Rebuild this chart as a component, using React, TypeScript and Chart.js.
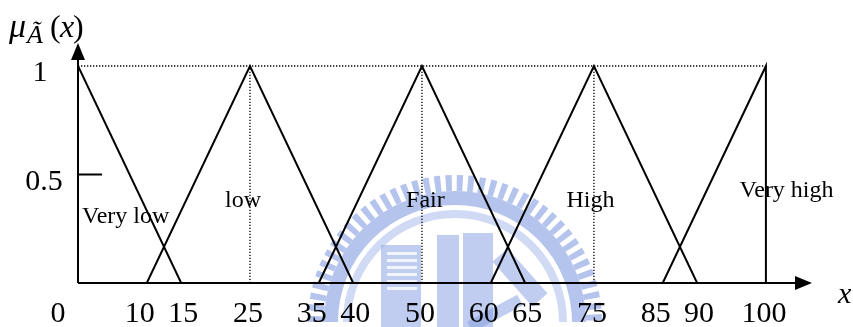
import React, { useEffect, useRef } from 'react';
import { Chart, registerables } from 'chart.js';

Chart.register(...registerables);

// ---- data ----
const xTickValues = [0, 10, 15, 25, 35, 40, 50, 60, 65, 75, 85, 90, 100];
const yTickValues = [0.5, 1];
const setNames = ['Very low', 'low', 'Fair', 'High', 'Very high'];
const veryLowX = [0, 15];
const veryLowY = [1, 0];
const lowX = [10, 25, 40];
const lowY = [0, 1, 0];
const fairX = [35, 50, 65];
const fairY = [0, 1, 0];
const highX = [60, 75, 90];
const highY = [0, 1, 0];
const veryHighX = [85, 100, 100];
const veryHighY = [0, 1, 0];
const peakX = [25, 50, 75];
const topLineX = [0, 100];

const FONT = '"Liberation Serif", "Times New Roman", serif';

const pts = (xs: number[], ys: number[]) => xs.map((x, i) => ({ x, y: ys[i] }));

const solid = (label: string, xs: number[], ys: number[]) => ({
  label,
  data: pts(xs, ys),
  borderColor: '#000',
  borderWidth: 2,
  pointRadius: 0,
  tension: 0,
  fill: false,
});

const dotted = (label: string, data: { x: number; y: number }[]) => ({
  label,
  data,
  borderColor: '#000',
  borderWidth: 1.3,
  borderDash: [1.3, 1.7],
  pointRadius: 0,
  tension: 0,
  fill: false,
});

// faint watermark logo behind the chart
const watermarkPlugin = {
  id: 'watermark',
  beforeDatasetsDraw(chart: any) {
    const { ctx } = chart;
    const cx = 455;
    const cy = 322;
    ctx.save();
    ctx.beginPath();
    ctx.rect(0, 0, 853, 327);
    ctx.clip();
    const blue = 'rgba(120,148,222,0.55)';
    ctx.strokeStyle = blue;
    ctx.lineWidth = 16;
    ctx.setLineDash([6, 5]);
    ctx.beginPath();
    ctx.arc(cx, cy, 139, Math.PI, 2 * Math.PI);
    ctx.stroke();
    ctx.setLineDash([]);
    ctx.lineWidth = 14;
    ctx.beginPath();
    ctx.arc(cx, cy, 124, Math.PI, 2 * Math.PI);
    ctx.stroke();
    ctx.lineWidth = 8;
    ctx.strokeStyle = 'rgba(150,172,230,0.45)';
    ctx.beginPath();
    ctx.arc(cx, cy, 108, Math.PI, 2 * Math.PI);
    ctx.stroke();
    ctx.fillStyle = 'rgba(130,156,225,0.5)';
    ctx.fillRect(381, 245, 40, 82);
    ctx.fillRect(437, 235, 22, 92);
    ctx.fillRect(463, 233, 30, 94);
    ctx.fillStyle = 'rgba(255,255,255,0.8)';
    for (let i = 0; i < 6; i++) ctx.fillRect(387, 252 + i * 7, 30, 3);
    ctx.strokeStyle = 'rgba(130,156,225,0.5)';
    ctx.lineWidth = 20;
    ctx.beginPath();
    ctx.moveTo(500, 255);
    ctx.lineTo(540, 300);
    ctx.stroke();
    ctx.lineWidth = 12;
    ctx.beginPath();
    ctx.moveTo(520, 300);
    ctx.lineTo(470, 327);
    ctx.stroke();
    ctx.restore();
  },
};

const decorPlugin = {
  id: 'decor',
  afterDatasetsDraw(chart: any) {
    const { ctx, chartArea, scales } = chart;
    const xs = scales.x;
    const ys = scales.y;
    const x0 = xs.getPixelForValue(0);
    const y0 = ys.getPixelForValue(0);
    ctx.save();
    ctx.strokeStyle = '#000';
    ctx.fillStyle = '#000';
    ctx.lineWidth = 2;
    ctx.beginPath();
    ctx.moveTo(x0, y0);
    ctx.lineTo(x0, chartArea.top + 14);
    ctx.moveTo(x0, y0);
    ctx.lineTo(chartArea.right - 14, y0);
    ctx.stroke();
    ctx.beginPath();
    ctx.moveTo(x0, chartArea.top);
    ctx.lineTo(x0 - 7, chartArea.top + 17);
    ctx.lineTo(x0 + 7, chartArea.top + 17);
    ctx.closePath();
    ctx.fill();
    ctx.beginPath();
    ctx.moveTo(chartArea.right, y0);
    ctx.lineTo(chartArea.right - 17, y0 - 7);
    ctx.lineTo(chartArea.right - 17, y0 + 7);
    ctx.closePath();
    ctx.fill();
    const yh = ys.getPixelForValue(0.5);
    ctx.beginPath();
    ctx.moveTo(x0, yh);
    ctx.lineTo(x0 + 24, yh);
    ctx.stroke();

    // x tick labels (nudge apart labels that are only 5 apart)
    ctx.font = `30px ${FONT}`;
    ctx.textAlign = 'center';
    ctx.textBaseline = 'alphabetic';
    xTickValues.forEach((v, i) => {
      const px = xs.getPixelForValue(v);
      let dx = -2;
      if (i + 1 < xTickValues.length && xTickValues[i + 1] - v <= 5) dx -= 5;
      if (i > 0 && v - xTickValues[i - 1] <= 5) dx += 4;
      ctx.fillText(String(v), v === 0 ? px - 20 : px + dx, 322);
    });
    yTickValues.forEach((v) => {
      const py = ys.getPixelForValue(v);
      ctx.textAlign = 'center';
      ctx.fillText(String(v), v === 1 ? 40 : 44, py + 15);
    });

    ctx.font = `24px ${FONT}`;
    ctx.textAlign = 'left';
    ctx.fillText(setNames[0], x0 + 4, ys.getPixelForValue(0.32) + 9);
    ctx.textAlign = 'center';
    ctx.fillText(setNames[1], xs.getPixelForValue(24), ys.getPixelForValue(0.39) + 9);
    ctx.fillText(setNames[2], xs.getPixelForValue(50.5), ys.getPixelForValue(0.39) + 9);
    ctx.fillText(setNames[3], xs.getPixelForValue(74.5), ys.getPixelForValue(0.39) + 9);
    ctx.fillText(setNames[4], xs.getPixelForValue(103), ys.getPixelForValue(0.44) + 9);

    ctx.textAlign = 'left';
    ctx.font = `italic 34px ${FONT}`;
    ctx.fillText('\u03bc', 9, 37);
    ctx.font = `italic 26px ${FONT}`;
    ctx.fillText('\u00c3', 27, 43);
    ctx.font = `32px ${FONT}`;
    ctx.fillText('(', 50, 37);
    ctx.font = `italic 32px ${FONT}`;
    ctx.fillText('x', 60, 37);
    ctx.font = `32px ${FONT}`;
    ctx.fillText(')', 73, 37);
    ctx.font = `italic 30px ${FONT}`;
    ctx.fillText('x', 838, 303);
    ctx.restore();
  },
};

export default function App() {
  const ref = useRef<HTMLCanvasElement>(null);
  useEffect(() => {
    document.body.style.margin = '0';
    const canvas = ref.current!;
    const chart = new Chart(canvas, {
      type: 'line',
      data: {
        datasets: [
          dotted('top', pts(topLineX, [1, 1])),
          ...peakX.map((p) => dotted('peak' + p, pts([p, p], [0, 1]))),
          solid(setNames[0], veryLowX, veryLowY),
          solid(setNames[1], lowX, lowY),
          solid(setNames[2], fairX, fairY),
          solid(setNames[3], highX, highY),
          solid(setNames[4], veryHighX, veryHighY),
        ],
      },
      options: {
        animation: false,
        responsive: false,
        layout: { padding: { left: 78, right: 41, top: 43, bottom: 44 } },
        plugins: { legend: { display: false }, tooltip: { enabled: false } },
        scales: {
          x: { type: 'linear', min: 0, max: 106.7, display: false },
          y: { type: 'linear', min: 0, max: 1.106, display: false },
        },
      },
      plugins: [watermarkPlugin, decorPlugin],
    });
    return () => chart.destroy();
  }, []);
  return (
    <div style={{ width: 853, height: 327 }}>
      <canvas ref={ref} width={853} height={327} style={{ display: 'block' }} />
    </div>
  );
}
